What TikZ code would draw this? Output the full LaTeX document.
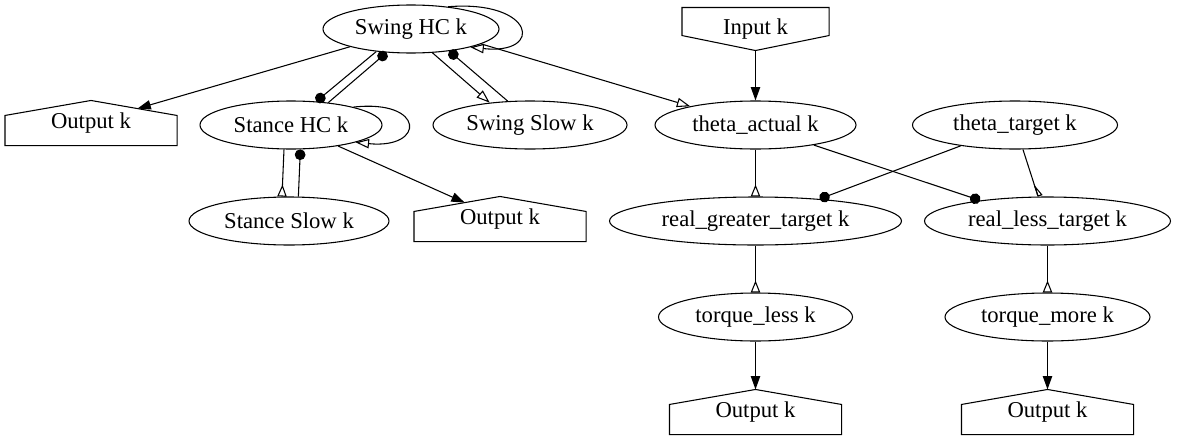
\documentclass[tikz,border=0pt]{standalone}
\usepackage{fontspec}
\setmainfont{Liberation Serif}
\usetikzlibrary{calc, shapes, arrows.meta}

\tikzset{
	state/.style={ellipse, draw, minimum height=36pt, inner sep=0pt},
	outbox/.style={minimum width=128.25pt, minimum height=33pt, inner sep=0pt},
	inbox/.style={minimum width=109.5pt, minimum height=31.5pt, inner sep=0pt},
	tipfill/.style={-{Triangle[length=10pt,width=7pt]}},
	tipopen/.style={-{Triangle[open,length=10pt,width=7pt]}},
	tipdot/.style={-{Circle[length=8pt]}},
	tipinv/.style={-{Triangle[open,reversed,length=9pt,width=7pt]}},
	tiphalf/.style={-{Triangle[open,reversed,left,length=9pt,width=7pt]}}
}

\begin{document}
\begin{tikzpicture}[x=0.75pt, y=-0.75pt, line width=0.8pt, font=\fontsize{17}{20}\selectfont]
	\useasboundingbox (0,0) rectangle (1178,443);
	%Row one
	\node[state, minimum width=132pt] (swing) at (411,29) {Swing HC k};
	\node[inbox] (input) at (755.5,29) {Input k};
	%Row two
	\node[outbox] (out1) at (91,123) {Output k};
	\node[state, minimum width=136.5pt] (stance) at (291,125) {Stance HC k};
	\node[state, minimum width=145.5pt] (swingslow) at (530,125) {Swing Slow k};
	\node[state, minimum width=150.75pt] (actual) at (755.5,125) {theta\_actual k};
	\node[state, minimum width=153.75pt] (target) at (1015,125) {theta\_target k};
	%Row three
	\node[state, minimum width=150pt] (stanceslow) at (289,221) {Stance Slow k};
	\node[outbox] (out2) at (500,219) {Output k};
	\node[state, minimum width=219pt] (greater) at (755.5,221) {real\_greater\_target k};
	\node[state, minimum width=184.5pt] (less) at (1047.5,221) {real\_less\_target k};
	%Row four
	\node[state, minimum width=145.5pt] (torqueless) at (755.5,317) {torque\_less k};
	\node[state, minimum width=153.75pt] (torquemore) at (1047.5,317) {torque\_more k};
	%Row five
	\node[outbox] (out3) at (755.5,412) {Output k};
	\node[outbox] (out4) at (1047.5,412) {Output k};
	%House outlines
	\foreach \o in {out1,out2,out3,out4} {
		\draw (\o.south west) -- ([yshift=-11.25pt]\o.north west) -- (\o.north)
			-- ([yshift=-11.25pt]\o.north east) -- (\o.south east) -- cycle;
	}
	\draw (input.north west) -- (input.north east) -- ([yshift=11.25pt]input.south east)
		-- (input.south) -- ([yshift=11.25pt]input.south west) -- cycle;
	%Points on the roofs
	\coordinate (o1tip) at ($(out1.north)!0.54!([yshift=-11.25pt]out1.north east)$);
	\coordinate (o2tip) at ($(out2.north)!0.41!([yshift=-11.25pt]out2.north west)$);
	%Swing HC edges
	\draw[tipfill] (swing) -- (o1tip);
	\draw[tipdot] (swing.213) -- (stance.43);
	\draw[tipdot] (stance.31) -- (swing.224);
	\draw[tipopen] (swing.31) .. controls +(87,-7) and +(74,8) .. (swing.-17);
	\draw[tipopen] (swing.-48) -- (swingslow.151);
	\draw[tipdot] (swingslow.133) -- (swing.-30);
	\draw[tipopen] (swing.-12) -- (actual.164);
	%Stance HC edges
	\draw[tipopen] (stance.16) .. controls +(72,-8) and +(70,7) .. (stance.-15);
	\draw[tipfill] (stance) -- (o2tip);
	\draw[tipinv] (stance.254) -- (stanceslow.106);
	\draw[tipdot] (stanceslow.69) -- (stance.-69);
	%theta edges
	\draw[tipfill] (input.south) -- (actual.north);
	\draw[tipinv] (actual.south) -- (greater.north);
	\draw[tipdot] (actual.-19) -- (less.163);
	\draw[tipdot] (target.201) -- (greater.19);
	\draw[tiphalf] (target.-72) -- (less.111);
	%torque edges
	\draw[tipinv] (greater.south) -- (torqueless.north);
	\draw[tipinv] (less.south) -- (torquemore.north);
	\draw[tipfill] (torqueless.south) -- (out3.north);
	\draw[tipfill] (torquemore.south) -- (out4.north);
\end{tikzpicture}
\end{document}
